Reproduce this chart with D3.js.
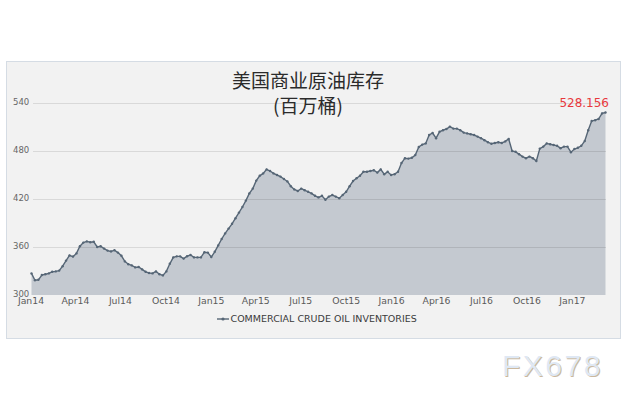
<!DOCTYPE html>
<html>
<head>
<meta charset="utf-8">
<script src="https://cdn.jsdelivr.net/npm/d3@7"></script>
<style>
  html, body { margin: 0; padding: 0; background: #ffffff; }
  svg { display: block; }
</style>
</head>
<body>
<svg id="chart" width="630" height="403"></svg>
<script>
// ---------------- DATA ----------------
const titleLines = ["美国商业原油库存", "(百万桶)"];
const seriesName = "COMMERCIAL CRUDE OIL INVENTORIES";
const firstWeek = "2014-01-03";   // weekly observations, one every 7 days
const inventories = [
  327, 318.5, 319, 325, 326, 327, 329, 329.5, 330.5, 336,
  343, 349.5, 348, 352, 361, 365.5, 367, 366, 366.5, 360,
  361, 358, 355.5, 354.5, 356, 353, 349, 342, 338.5, 337,
  334.5, 335, 332, 329, 327.5, 327, 329.5, 326, 324.5, 329.5,
  339, 347, 348.3, 348.3, 345.5, 348.5, 350, 347, 347, 347,
  353.5, 353, 347.5, 354, 362, 370, 377, 383, 389, 396,
  403, 410, 418, 427, 433, 443, 449, 452, 457, 455,
  452, 450, 448, 445, 442, 436, 432, 430, 433, 431,
  429, 427, 424, 422, 424, 419, 423, 425, 423, 421,
  425, 429, 436, 442.5, 446, 449, 454, 454, 455, 456,
  453, 457, 451, 454, 450, 451, 454, 465, 471, 470.5,
  471.5, 475, 485, 488, 489.5, 500, 502.5, 496, 504, 506,
  507.5, 510.5, 508, 508, 506, 503, 502, 501, 500, 498,
  496, 493.5, 491, 489, 490, 491, 490, 492, 495, 480,
  479, 476, 473, 471, 473, 471, 467.5, 483, 485.5, 489.5,
  488.5, 487.5, 486.5, 483.5, 485.5, 485.5, 478.5, 482.5, 484, 486.5,
  492.5, 506, 517.5, 518.5, 520, 527, 528.156
];
const yTicks = [300, 360, 420, 480, 540];
const xTickLabels = ["Jan14","Apr14","Jul14","Oct14","Jan15","Apr15","Jul15","Oct15","Jan16","Apr16","Jul16","Oct16","Jan17"];
const lastLabel = "528.156";
const watermark = "FX678";

// ---------------- BUILD ----------------
const parse = d3.timeParse("%Y-%m-%d");
const start = parse(firstWeek);
const data = inventories.map((v, i) => ({ date: d3.timeDay.offset(start, 7 * i), value: v }));
const tickDates = xTickLabels.map(s => d3.timeParse("%b%y")(s));

const svg = d3.select("#chart");

// panel
svg.append("rect")
  .attr("x", 6.5).attr("y", 61.5).attr("width", 614).attr("height", 277)
  .attr("fill", "#f2f2f2").attr("stroke", "#d5dce4").attr("stroke-width", 1);

const x = d3.scaleTime()
  .domain([new Date(2014, 0, 1), data[data.length - 1].date])
  .range([30.5, 605.5]);
const y = d3.scaleLinear().domain([300, 540]).range([295, 103]);

// area
const area = d3.area()
  .x(d => x(d.date)).y0(y(300)).y1(d => y(d.value));
svg.append("path").datum(data)
  .attr("d", area).attr("fill", "#c4c9d0");

// grid lines
svg.append("g").selectAll("line")
  .data(yTicks.filter(t => t > 300))
  .join("line")
  .attr("x1", 33).attr("x2", 606)
  .attr("y1", d => Math.round(y(d)) + 0.5).attr("y2", d => Math.round(y(d)) + 0.5)
  .attr("stroke", "rgba(0,0,0,0.10)").attr("stroke-width", 1);

// line
const line = d3.line().x(d => x(d.date)).y(d => y(d.value));
svg.append("path").datum(data)
  .attr("d", line).attr("fill", "none")
  .attr("stroke", "#566676").attr("stroke-width", 1.4);
svg.append("g").selectAll("circle")
  .data(data).join("circle")
  .attr("cx", d => x(d.date)).attr("cy", d => y(d.value))
  .attr("r", 1.2).attr("fill", "#566676");

// y labels
svg.append("g").selectAll("text")
  .data(yTicks).join("text")
  .attr("x", 13).attr("y", d => y(d) + 2.3)
  .attr("font-family", "DejaVu Sans, Verdana, sans-serif")
  .attr("font-size", 8.5).attr("fill", "#666")
  .text(d => d);

// x labels
const xAxis = d3.axisBottom(x).tickValues(tickDates).tickFormat(d3.timeFormat("%b%y")).tickSize(0).tickPadding(0);
const gx = svg.append("g").attr("transform", "translate(0,297)").call(xAxis);
gx.select(".domain").remove();
gx.selectAll("text")
  .attr("font-family", "DejaVu Sans, Verdana, sans-serif")
  .attr("font-size", 9.3).attr("fill", "#5a5a5a").attr("dy", "0.71em");

// title
svg.append("g").selectAll("text")
  .data(titleLines).join("text")
  .attr("x", 308).attr("y", (d, i) => 88 + i * 25)
  .attr("text-anchor", "middle")
  .attr("font-family", "Noto Sans CJK SC, sans-serif")
  .attr("font-size", 19).attr("fill", "#2b2b2b")
  .text(d => d);

// last value label
svg.append("text")
  .attr("x", 609).attr("y", 106.5).attr("text-anchor", "end")
  .attr("font-family", "DejaVu Sans, Verdana, sans-serif")
  .attr("font-size", 12).attr("fill", "#e8383d")
  .text(lastLabel);

// legend
const lg = svg.append("g");
lg.append("line").attr("x1", 217).attr("x2", 229).attr("y1", 319).attr("y2", 319)
  .attr("stroke", "#566676").attr("stroke-width", 1.4);
lg.append("circle").attr("cx", 223).attr("cy", 319).attr("r", 1.6).attr("fill", "#566676");
lg.append("text").attr("x", 230.5).attr("y", 322)
  .attr("font-family", "DejaVu Sans, Verdana, sans-serif")
  .attr("font-size", 9.5).attr("fill", "#3a3a3a")
  .text(seriesName);

// watermark
const wm = svg.append("g").attr("font-family", "Liberation Sans, Arial, sans-serif")
  .attr("font-size", 30).attr("letter-spacing", 2.5);
wm.append("text").attr("x", 503).attr("y", 377).attr("fill", "#cbb89e").text(watermark);
wm.append("text").attr("x", 502).attr("y", 376).attr("fill", "#dfe8f4").text(watermark);
</script>
</body>
</html>
